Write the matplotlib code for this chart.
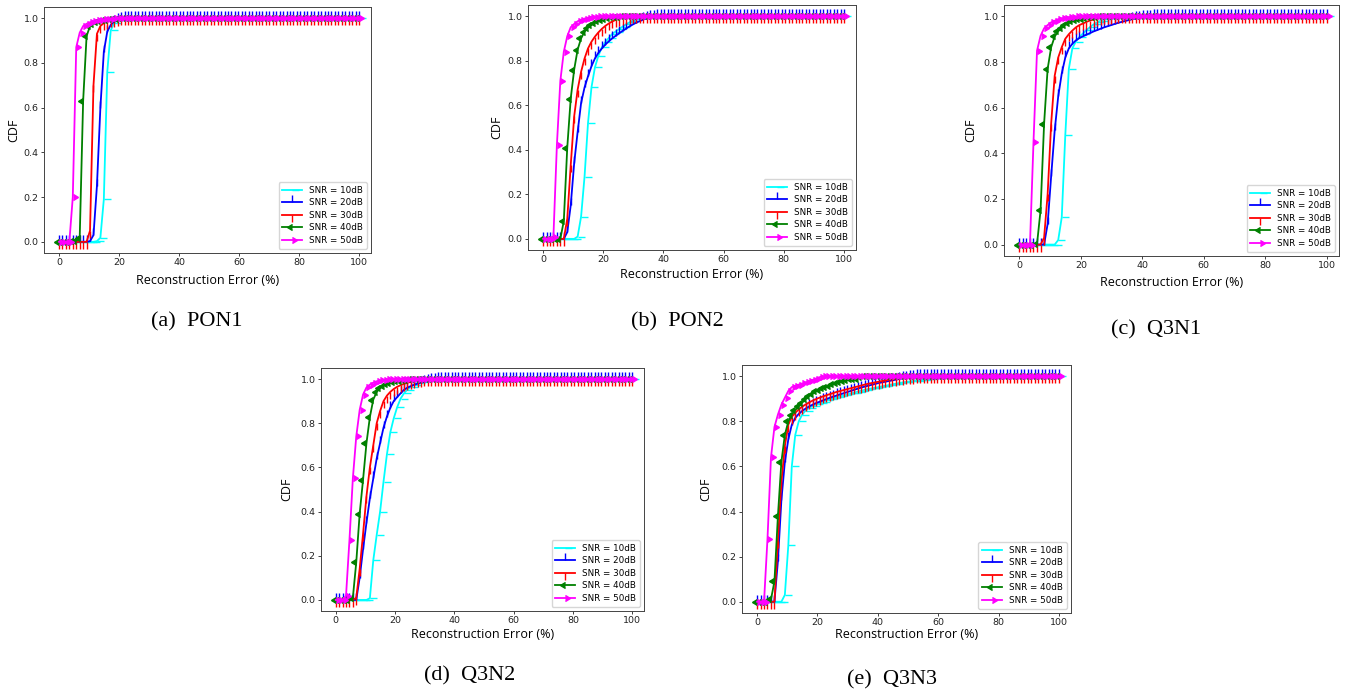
import numpy as np
import matplotlib
matplotlib.use("Agg")
import matplotlib.pyplot as plt

N = 88
error_pct = np.linspace(0, 100, N)

snr_labels = ["SNR = 10dB", "SNR = 20dB", "SNR = 30dB", "SNR = 40dB", "SNR = 50dB"]
captions = ["(a)  PON1", "(b)  PON2", "(c)  Q3N1", "(d)  Q3N2", "(e)  Q3N3"]

# ---- (a) PON1 ----
pon1_10 = [0.0]*11 + [0.003, 0.018, 0.19, 0.76, 0.945, 0.98, 0.992, 0.997, 0.999]
pon1_20 = [0.0]*9 + [0.003, 0.03, 0.25, 0.6, 0.85, 0.94, 0.97, 0.985, 0.993, 0.997, 0.999]
pon1_30 = [0.0]*9 + [0.05, 0.7, 0.93, 0.965, 0.978, 0.985, 0.99, 0.994, 0.997, 0.999]
pon1_40 = [0.0]*4 + [0.003, 0.005, 0.015, 0.63, 0.92, 0.965, 0.975, 0.982, 0.987, 0.99,
                     0.993, 0.995, 0.997, 0.998, 0.999]
pon1_50 = [0.0]*4 + [0.2, 0.87, 0.935, 0.965, 0.975, 0.982, 0.987, 0.99, 0.993, 0.995,
                     0.997, 0.998, 0.999]

# ---- (b) PON2 ----
pon2_10 = [0.0]*10 + [0.01, 0.1, 0.28, 0.52, 0.68, 0.77, 0.822, 0.86, 0.883, 0.902, 0.92,
                      0.931, 0.942, 0.953, 0.963, 0.972, 0.979, 0.985, 0.99, 0.994, 0.998, 0.999]
pon2_20 = [0.0]*7 + [0.03, 0.15, 0.34, 0.48, 0.61, 0.68, 0.73, 0.775, 0.81, 0.835, 0.855,
                     0.872, 0.887, 0.9, 0.912, 0.923, 0.934, 0.944, 0.954, 0.963, 0.971,
                     0.978, 0.985, 0.99, 0.994, 0.997, 0.999]
pon2_30 = [0.0]*7 + [0.09, 0.33, 0.55, 0.67, 0.75, 0.81, 0.855, 0.885, 0.908, 0.927, 0.943,
                     0.956, 0.967, 0.976, 0.983, 0.988, 0.992, 0.995, 0.998, 0.999]
pon2_40 = [0.0]*6 + [0.08, 0.41, 0.63, 0.76, 0.85, 0.9, 0.93, 0.948, 0.96, 0.97, 0.976,
                     0.983, 0.987, 0.991, 0.994, 0.997, 0.998, 0.999]
pon2_50 = [0.0]*3 + [0.01, 0.42, 0.71, 0.84, 0.91, 0.95, 0.965, 0.977, 0.984, 0.989, 0.993,
                     0.996, 0.998, 0.999]

# ---- (c) Q3N1 ----
q3n1_10 = [0.0]*11 + [0.02, 0.12, 0.48, 0.77, 0.86, 0.89, 0.91, 0.925, 0.94, 0.953, 0.965,
                      0.974, 0.981, 0.987, 0.991, 0.994, 0.997, 0.999]
q3n1_20 = [0.0]*8 + [0.09, 0.3, 0.5, 0.65, 0.75, 0.82, 0.86, 0.88, 0.895, 0.905, 0.913, 0.92,
                     0.927, 0.934, 0.94, 0.946, 0.952, 0.957, 0.962, 0.967, 0.972, 0.976, 0.98,
                     0.984, 0.988, 0.991, 0.994, 0.996, 0.998, 0.999]
q3n1_30 = [0.0]*7 + [0.03, 0.22, 0.53, 0.74, 0.82, 0.865, 0.902, 0.922, 0.938, 0.952, 0.962,
                     0.969, 0.976, 0.982, 0.986, 0.99, 0.993, 0.996, 0.998, 0.999]
q3n1_40 = [0.0]*5 + [0.003, 0.15, 0.53, 0.77, 0.865, 0.912, 0.935, 0.951, 0.963, 0.971, 0.978,
                     0.983, 0.987, 0.99, 0.993, 0.996, 0.998, 0.999]
q3n1_50 = [0.0]*4 + [0.45, 0.85, 0.915, 0.948, 0.962, 0.974, 0.981, 0.988, 0.992, 0.995,
                     0.997, 0.999]

# ---- (d) Q3N2 ----
q3n2_10 = [0.0]*10 + [0.008, 0.18, 0.294, 0.40, 0.535, 0.659, 0.759, 0.822, 0.872, 0.911,
                      0.935, 0.952, 0.965, 0.975, 0.982, 0.987, 0.991, 0.994, 0.996, 0.998, 0.999]
q3n2_20 = [0.0]*7 + [0.1, 0.23, 0.35, 0.46, 0.55, 0.64, 0.71, 0.78, 0.83, 0.87, 0.9, 0.918,
                     0.935, 0.951, 0.961, 0.968, 0.974, 0.979, 0.984, 0.988, 0.991, 0.994,
                     0.996, 0.998, 0.999]
q3n2_30 = [0.0]*6 + [0.01, 0.14, 0.3, 0.47, 0.6, 0.7, 0.8, 0.855, 0.9, 0.925, 0.942, 0.955,
                     0.965, 0.972, 0.978, 0.983, 0.987, 0.991, 0.994, 0.997, 0.999]
q3n2_40 = [0.0]*5 + [0.01, 0.17, 0.39, 0.545, 0.71, 0.828, 0.907, 0.942, 0.958, 0.97, 0.978,
                     0.983, 0.988, 0.991, 0.993, 0.995, 0.997, 0.998, 0.999]
q3n2_50 = [0.0]*3 + [0.02, 0.27, 0.55, 0.74, 0.86, 0.93, 0.962, 0.975, 0.984, 0.99, 0.994,
                     0.997, 0.999]

# ---- (e) Q3N3 ----
q3n3_10 = [0.0]*8 + [0.03, 0.25, 0.6, 0.74, 0.8, 0.83, 0.848, 0.86, 0.868, 0.875, 0.882,
                     0.888, 0.893, 0.898, 0.903, 0.908, 0.912, 0.916, 0.92, 0.924, 0.928,
                     0.932, 0.936, 0.94, 0.943, 0.946, 0.949, 0.952, 0.955, 0.958, 0.961,
                     0.964, 0.967, 0.97, 0.973, 0.975, 0.977, 0.979, 0.981, 0.983, 0.985,
                     0.987, 0.989, 0.991, 0.993, 0.995, 0.997, 0.998, 0.999]
q3n3_20 = [0.0]*6 + [0.18, 0.45, 0.62, 0.72, 0.785, 0.815, 0.833, 0.846, 0.857, 0.866, 0.874,
                     0.881, 0.887, 0.893, 0.899, 0.905, 0.91, 0.915, 0.92, 0.925, 0.93, 0.935,
                     0.94, 0.945, 0.95, 0.954, 0.958, 0.962, 0.966, 0.97, 0.973, 0.976, 0.979,
                     0.982, 0.985, 0.988, 0.991, 0.994, 0.996, 0.998, 0.999]
q3n3_30 = [0.0]*6 + [0.27, 0.53, 0.69, 0.785, 0.82, 0.838, 0.853, 0.865, 0.875, 0.884, 0.892,
                     0.899, 0.905, 0.911, 0.916, 0.921, 0.926, 0.931, 0.935, 0.939, 0.943,
                     0.947, 0.951, 0.955, 0.959, 0.963, 0.967, 0.97, 0.973, 0.976, 0.979,
                     0.982, 0.985, 0.987, 0.989, 0.991, 0.993, 0.995, 0.997, 0.998, 0.999]
q3n3_40 = [0.0]*4 + [0.01, 0.09, 0.38, 0.62, 0.74, 0.8, 0.83, 0.85, 0.866, 0.883, 0.898, 0.912,
                     0.923, 0.933, 0.94, 0.946, 0.952, 0.958, 0.964, 0.969, 0.975, 0.98, 0.983,
                     0.986, 0.988, 0.99, 0.995]
q3n3_50 = [0.0]*3 + [0.28, 0.64, 0.775, 0.83, 0.874, 0.905, 0.935, 0.952, 0.958, 0.963, 0.968,
                     0.973, 0.978, 0.984, 0.99, 0.996]

panels = [
    [pon1_10, pon1_20, pon1_30, pon1_40, pon1_50],
    [pon2_10, pon2_20, pon2_30, pon2_40, pon2_50],
    [q3n1_10, q3n1_20, q3n1_30, q3n1_40, q3n1_50],
    [q3n2_10, q3n2_20, q3n2_30, q3n2_40, q3n2_50],
    [q3n3_10, q3n3_20, q3n3_30, q3n3_40, q3n3_50],
]

colors = ["#00ffff", "#0000ff", "#ff0000", "#008000", "#ff00ff"]
markers = [1, 2, 3, 8, 9]  # tickright, tickup, tickdown, caretleft, caretright


def full(seq):
    return np.array(list(seq) + [1.0] * (N - len(seq)))


W, H = 1350, 696
fig = plt.figure(figsize=(W / 100, H / 100), dpi=100)

# axes boxes in pixels: left, top, right, bottom
boxes = [(44, 7, 371, 253), (528, 5, 856, 250), (1004, 5, 1339, 256),
         (321, 368, 644, 611), (742, 365, 1071, 613)]
caption_pos = [(197, 322), (677, 322), (1156, 330), (470, 676), (892, 680)]
xlabel_y = [280, 274, 282, 634, 634]
ylabel_x = [14, 497, 971, 287, 706]

for k, (curves, box) in enumerate(zip(panels, boxes)):
    l, t, r, b = box
    ax = fig.add_axes([l / W, 1 - b / H, (r - l) / W, (b - t) / H])
    for y, c, m, lab in zip(curves, colors, markers, snr_labels):
        ax.plot(error_pct, full(y), color=c, marker=m, ms=5, mew=1.0, lw=1.3, label=lab)
    ax.set_xlim(-5, 104)
    ax.set_ylim(-0.05, 1.05)
    ax.set_xticks([0, 20, 40, 60, 80, 100])
    ax.set_yticks([0.0, 0.2, 0.4, 0.6, 0.8, 1.0])
    ax.set_yticklabels(["0.0", "0.2", "0.4", "0.6", "0.8", "1.0"])
    ax.tick_params(labelsize=6.8, length=2.2, width=0.6, pad=1.5, colors="#222222")
    for s in ax.spines.values():
        s.set_linewidth(0.7)
        s.set_color("#444444")
    ax.set_ylabel("CDF", fontsize=9, family="Open Sans")
    ax.set_xlabel("Reconstruction Error (%)", fontsize=9, family="Open Sans")
    ax.yaxis.set_label_coords((ylabel_x[k] - l) / (r - l), 0.5)
    ax.xaxis.set_label_coords(0.5, (b - xlabel_y[k]) / (b - t))
    ax.xaxis.label.set_va("center")
    ax.yaxis.label.set_va("center")
    ax.legend(loc="lower right", fontsize=6.3, numpoints=1, handlelength=2.2,
              borderpad=0.45, labelspacing=0.4, borderaxespad=0.5, edgecolor="#cccccc")
    cx, cy = caption_pos[k]
    fig.text(cx / W, 1 - cy / H, captions[k], ha="center", va="center",
             fontsize=16, family="Liberation Serif")

fig.savefig("out.png", dpi=100)
